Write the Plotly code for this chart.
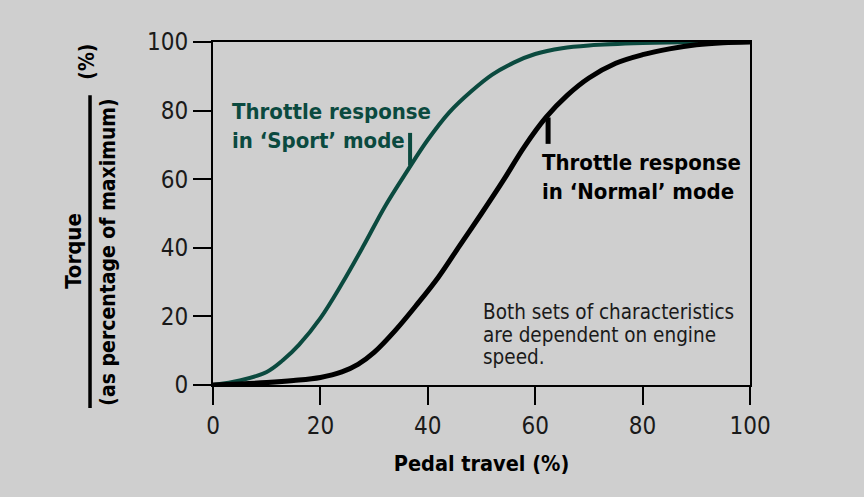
import plotly.graph_objects as go

# ---- data ----
sport_x = [0, 5, 10, 13, 16, 20, 24, 28, 32, 36, 40, 44, 48, 52, 56, 60, 65, 70, 80, 90, 100]
sport_y = [0, 1.3, 3.8, 7.2, 11.7, 19.5, 29.5, 40.5, 52, 62, 71.5, 79.5, 85.5, 90.5, 94, 96.5, 98.2, 99, 99.7, 100, 100]

normal_x = [0, 5, 10, 15, 20, 24, 27, 30, 34, 38, 42, 46, 50, 54, 58, 62, 66, 70, 75, 80, 85, 90, 95, 100]
normal_y = [0, 0.3, 0.7, 1.3, 2.2, 3.8, 6, 9.5, 16, 23.5, 31.5, 40.8, 50, 59.5, 69.5, 78, 84.5, 89.5, 93.8, 96.3, 98, 99.2, 99.8, 100]

tick_vals = [0, 20, 40, 60, 80, 100]

sport_label = ["Throttle response", "in ‘Sport’ mode"]
normal_label = ["Throttle response", "in ‘Normal’ mode"]
note_lines = ["Both sets of characteristics", "are dependent on engine", "speed."]

# leader marks (x, y_from, y_to)
sport_leader = (36.7, 64, 73.5)
normal_leader = (62.4, 78, 70.3)

GREEN = "#0b4a3f"
BG = "#cfcfcf"
FONT = "DejaVu Sans Condensed, Liberation Sans Narrow, Arial Narrow, sans-serif"

fig = go.Figure()
fig.add_trace(go.Scatter(x=sport_x, y=sport_y, mode="lines", line=dict(color=GREEN, width=4, shape="spline"),
                         cliponaxis=False, showlegend=False, hoverinfo="skip"))
fig.add_trace(go.Scatter(x=normal_x, y=normal_y, mode="lines", line=dict(color="black", width=5, shape="spline"),
                         cliponaxis=False, showlegend=False, hoverinfo="skip"))

# leaders
fig.add_shape(type="line", x0=sport_leader[0], x1=sport_leader[0], y0=sport_leader[1], y1=sport_leader[2],
              line=dict(color=GREEN, width=4), xref="x", yref="y")
fig.add_shape(type="line", x0=normal_leader[0], x1=normal_leader[0], y0=normal_leader[1], y1=normal_leader[2],
              line=dict(color="black", width=5), xref="x", yref="y")

ann = []
ann.append(dict(x=3.2, y=75.4, xref="x", yref="y", xanchor="left", yanchor="middle", align="left",
                text="<b>" + "<br>".join(sport_label) + "</b>", showarrow=False,
                font=dict(family=FONT, size=22, color=GREEN)))
ann.append(dict(x=60.9, y=60.5, xref="x", yref="y", xanchor="left", yanchor="middle", align="left",
                text="<b>" + "<br>".join(normal_label) + "</b>", showarrow=False,
                font=dict(family=FONT, size=22, color="black")))
for txt, yy in zip(note_lines, [21.4, 14.6, 8.1]):
    ann.append(dict(x=49.9, y=yy, xref="x", yref="y", xanchor="left", yanchor="middle", align="left",
                    text=txt, showarrow=False, font=dict(family=FONT, size=20.5, color="#1a1a1a")))

# y-axis title as fraction
ann.append(dict(x=-0.259, y=0.391, xref="paper", yref="paper", xanchor="center", yanchor="middle",
                text="<b>Torque</b>", textangle=-90,
                showarrow=False, font=dict(family=FONT, size=22, color="black")))
ann.append(dict(x=-0.196, y=0.388, xref="paper", yref="paper", xanchor="center", yanchor="middle",
                text="<b>(as percentage of maximum)</b>",
                textangle=-90, showarrow=False, font=dict(family=FONT, size=21, color="black")))
ann.append(dict(x=-0.235, y=0.942, xref="paper", yref="paper", xanchor="center", yanchor="middle",
                text="<b>(%)</b>", textangle=-90,
                showarrow=False, font=dict(family=FONT, size=21, color="black")))
fig.add_shape(type="line", xref="paper", yref="paper", x0=-0.229, x1=-0.229, y0=-0.067, y1=0.845,
              line=dict(color="black", width=3.5))

fig.update_layout(
    width=864, height=497,
    margin=dict(l=213, r=114, t=42, b=112),
    paper_bgcolor=BG, plot_bgcolor=BG,
    annotations=ann,
    font=dict(family=FONT, color="#1a1a1a"),
)
fig.update_xaxes(range=[0, 100], tickvals=tick_vals, showgrid=False, zeroline=False,
                 showline=True, linecolor="black", linewidth=2, mirror=True,
                 ticks="outside", ticklen=18, tickwidth=2, tickcolor="black",
                 tickfont=dict(family=FONT, size=24, color="#1a1a1a"),
                 title=dict(text="<b>Pedal travel (%)</b>", standoff=17,
                            font=dict(family=FONT, size=21.5, color="black")))
fig.update_yaxes(range=[0, 100], tickvals=tick_vals, showgrid=False, zeroline=False,
                 showline=True, linecolor="black", linewidth=2, mirror=True,
                 ticks="outside", ticklen=18, tickwidth=2, tickcolor="black",
                 tickfont=dict(family=FONT, size=24, color="#1a1a1a"))

fig.write_html("out.html")
